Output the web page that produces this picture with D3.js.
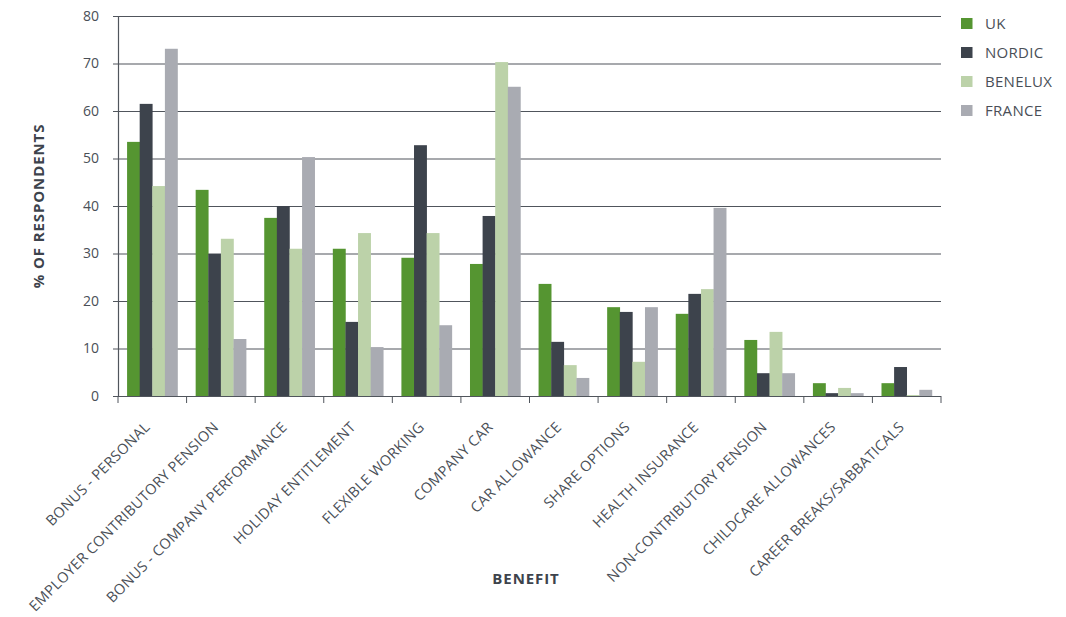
<!DOCTYPE html>
<html><head><meta charset="utf-8">
<script src="https://cdn.jsdelivr.net/npm/d3@7/dist/d3.min.js"></script>
<style>body{margin:0;background:#fff}svg{display:block}text{font-family:"Open Sans",sans-serif}</style>
</head><body><svg id="c" width="1066" height="617"></svg>
<script>
const categories = ["BONUS - PERSONAL","EMPLOYER CONTRIBUTORY PENSION","BONUS - COMPANY PERFORMANCE","HOLIDAY ENTITLEMENT","FLEXIBLE WORKING","COMPANY CAR","CAR ALLOWANCE","SHARE OPTIONS","HEALTH INSURANCE","NON-CONTRIBUTORY PENSION","CHILDCARE ALLOWANCES","CAREER BREAKS/SABBATICALS"];
const seriesNames = ["UK","NORDIC","BENELUX","FRANCE"];
const uk      = [53.5,43.4,37.5,31.0,29.1,27.8,23.6,18.7,17.3,11.8,2.7,2.7];
const nordic  = [61.5,29.9,40.0,15.6,52.8,37.9,11.4,17.7,21.5,4.8,0.6,6.1];
const benelux = [44.2,33.1,31.0,34.3,34.3,70.3,6.5,7.2,22.5,13.5,1.7,0.2];
const france  = [73.1,12.0,50.3,10.3,14.9,65.1,3.8,18.7,39.6,4.8,0.6,1.3];
const yTicks = [0,10,20,30,40,50,60,70,80];
const colors = ["#559531","#3d434c","#bcd2a9","#a9abb2"];
const series = [uk,nordic,benelux,france];

const svg = d3.select("#c");
const mL=118, mR=941, mT=16, mB=396;
const x0 = d3.scaleBand().domain(categories).range([mL,mR]).paddingInner(0).paddingOuter(0);
const x1 = d3.scaleBand().domain(seriesNames).range([0,x0.bandwidth()]).paddingInner(0).paddingOuter(0.72);
const y = d3.scaleLinear().domain([0,80]).range([mB,mT]);
const txt="#4a4f57", axc="#50555c";

// grid
svg.append("g").selectAll("line").data(yTicks).join("line")
  .attr("x1",mL).attr("x2",mR).attr("y1",d=>y(d)+0.5).attr("y2",d=>y(d)+0.5)
  .attr("stroke",axc).attr("stroke-width",1.2);

// bars
categories.forEach((c,i)=>{
  seriesNames.forEach((s,j)=>{
    svg.append("rect").attr("x",x0(c)+x1(s)).attr("width",x1.bandwidth()+0.3)
      .attr("y",y(series[j][i])).attr("height",y(0)-y(series[j][i])).attr("fill",colors[j]);
  });
});

// y axis
const ya = svg.append("g").attr("transform",`translate(${mL},0)`)
  .call(d3.axisLeft(y).tickValues(yTicks).tickSize(5).tickPadding(14));
ya.select(".domain").attr("stroke",axc).attr("stroke-width",1.2);
ya.selectAll(".tick line").attr("stroke",axc);
ya.selectAll("text").attr("fill",txt).attr("font-size",14).attr("font-family","Open Sans");

// x axis
const xa = svg.append("g").attr("transform",`translate(0,${mB})`);
xa.append("line").attr("x1",mL).attr("x2",mR).attr("y1",0.5).attr("y2",0.5).attr("stroke",axc).attr("stroke-width",1.2);
const bounds = categories.map(c=>x0(c)).concat([mR]);
xa.selectAll("line.t").data(bounds).join("line").attr("class","t")
  .attr("x1",d=>d).attr("x2",d=>d).attr("y1",0).attr("y2",7).attr("stroke",axc);
xa.selectAll("text").data(categories).join("text")
  .attr("transform",d=>`translate(${x0(d)+x0.bandwidth()/2-1.5},${32}) rotate(-45)`)
  .attr("text-anchor","end").attr("fill",txt).attr("font-size",14.5).attr("letter-spacing",0.3).text(d=>d);

// titles
svg.append("text").attr("transform",`translate(43.5,206) rotate(-90)`).attr("text-anchor","middle")
  .attr("font-weight","bold").attr("font-size",15).attr("letter-spacing",0.9).attr("fill","#3d434c").text("% OF RESPONDENTS");
svg.append("text").attr("x",526).attr("y",584).attr("text-anchor","middle")
  .attr("font-weight","bold").attr("font-size",15).attr("letter-spacing",0.9).attr("fill","#3d434c").text("BENEFIT");

// legend
const lg = svg.append("g").selectAll("g").data(seriesNames).join("g")
  .attr("transform",(d,i)=>`translate(961,${18+i*29})`);
lg.append("rect").attr("width",11.5).attr("height",11).attr("y",0).attr("fill",(d,i)=>colors[i]);
lg.append("text").attr("x",24).attr("y",11).attr("font-size",15).attr("letter-spacing",0.3).attr("fill",txt).text(d=>d);
</script></body></html>
